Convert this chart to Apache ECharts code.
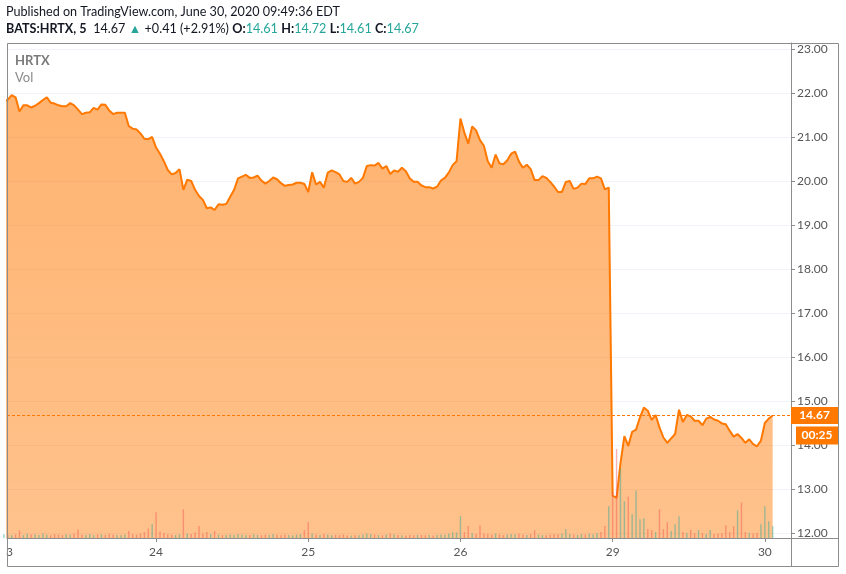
<!DOCTYPE html>
<html>
<head>
<meta charset="utf-8">
<title>HRTX</title>
<script src="https://cdn.jsdelivr.net/npm/echarts@6/dist/echarts.min.js"></script>
<style>
  html, body { margin: 0; padding: 0; background: #fff; }
  #chart { width: 846px; height: 574px; }
</style>
</head>
<body>
<div id="chart"></div>
<script>
// one step on x = 10 minutes, 39 steps per session (23, 24, 25, 26, 29 June, then 30 June open)
const dayLabels = ['24', '25', '26', '29', '30'];
const dayStarts = [39, 78, 117, 156, 195];
const priceTicks = [12, 13, 14, 15, 16, 17, 18, 19, 20, 21, 22, 23];

const price = [
  21.80, 21.85, 21.95, 21.90, 21.58, 21.72, 21.72, 21.67, 21.71, 21.77,
  21.84, 21.90, 21.78, 21.76, 21.72, 21.70, 21.70, 21.77, 21.72, 21.62,
  21.52, 21.55, 21.56, 21.66, 21.62, 21.74, 21.73, 21.60, 21.52, 21.55,
  21.55, 21.55, 21.25, 21.19, 21.17, 21.08, 20.96, 20.95, 21.00,
  20.76, 20.62, 20.45, 20.25, 20.15, 20.18, 20.27, 19.80, 20.03, 20.00,
  19.80, 19.66, 19.57, 19.38, 19.40, 19.34, 19.47, 19.46, 19.48, 19.64,
  19.80, 20.06, 20.10, 20.14, 20.07, 20.08, 20.12, 20.01, 19.94, 20.00,
  20.08, 20.04, 19.95, 19.89, 19.91, 19.92, 19.96, 19.96, 19.93,
  19.75, 20.20, 19.92, 19.98, 19.85, 20.19, 20.24, 20.20, 20.15, 20.00,
  19.98, 20.07, 19.94, 19.98, 20.07, 20.34, 20.36, 20.35, 20.41, 20.28,
  20.34, 20.16, 20.24, 20.21, 20.30, 20.22, 20.06, 19.98, 19.98, 19.90,
  19.86, 19.86, 19.83, 19.87, 20.01, 20.07, 20.19, 20.36, 20.45,
  21.42, 21.10, 20.85, 21.24, 21.15, 20.93, 20.80, 20.45, 20.30, 20.60,
  20.40, 20.38, 20.47, 20.62, 20.67, 20.44, 20.30, 20.37, 20.27, 20.02,
  20.02, 20.11, 20.07, 19.98, 19.87, 19.75, 19.75, 19.98, 20.00, 19.82,
  19.85, 19.94, 19.93, 20.06, 20.06, 20.10, 20.06, 19.81, 19.85,
  12.85, 12.80, 13.58, 14.20, 13.98, 14.30, 14.35, 14.63, 14.85, 14.78,
  14.57, 14.68, 14.40, 14.17, 14.05, 14.15, 14.25, 14.80, 14.52, 14.68,
  14.65, 14.55, 14.55, 14.45, 14.60, 14.64, 14.58, 14.55, 14.49, 14.47,
  14.32, 14.19, 14.25, 14.16, 14.05, 14.13, 14.02, 13.97, 14.10,
  14.50, 14.60, 14.67
];

// thousands of shares per step
const volume = [
  40, 35, 30, 38, 78, 30, 42, 35, 38, 30, 45, 32, 28, 40, 35, 30, 38, 32, 45, 85,
  35, 30, 40, 28, 35, 38, 30, 42, 35, 30, 28, 35, 70, 40, 35, 45, 60, 95, 140,
  260, 65, 50, 40, 35, 30, 38, 290, 45, 40, 55, 120, 45, 60, 40, 70, 35, 30, 28,
  35, 30, 40, 35, 28, 30, 38, 32, 28, 35, 30, 40, 32, 28, 35, 30, 28, 35, 40, 80,
  160, 45, 35, 30, 40, 35, 28, 32, 30, 38, 28, 25, 30, 28, 35, 45, 40, 35, 30,
  28, 35, 45, 38, 30, 28, 25, 30, 28, 32, 30, 28, 30, 25, 30, 35, 32, 45, 60, 55,
  220, 60, 120, 50, 40, 130, 45, 40, 35, 45, 38, 30, 35, 40, 38, 45, 35, 30, 40,
  80, 35, 30, 28, 35, 40, 38, 45, 90, 40, 35, 30, 40, 35, 45, 38, 50, 60, 120, 320,
  470, 900, 700, 370, 420, 240, 480, 190, 200, 90, 80, 60, 290, 90, 160, 70, 140,
  220, 60, 50, 80, 50, 80, 50, 40, 80, 40, 45, 50, 130, 60, 120, 280, 360, 60, 50,
  45, 50, 140,
  320, 170, 120
];

const symbol = 'BATS:HRTX, 5';
const lastPrice = 14.67;
const change = 0.41;
const changePct = 2.91;
const ohlcNames = ['O:', 'H:', 'L:', 'C:'];
const ohlcValues = [14.61, 14.72, 14.61, 14.67];

const orange = '#ff7800';
const teal = '#26a69a';
const font = 'Lato';

function headerLine() {
  let s = '{b|' + symbol + '}  {n|' + lastPrice.toFixed(2) + '} {g|\u25B2} {n|+' + change.toFixed(2) +
          ' (+' + changePct.toFixed(2) + '%)}';
  ohlcNames.forEach((n, i) => {
    s += ' {b|' + n + '}{g|' + ohlcValues[i].toFixed(2) + '}';
  });
  return s;
}

const chart = echarts.init(document.getElementById('chart'));

const option = {
  animation: false,
  backgroundColor: '#fff',
  grid: { left: 7, right: 55, top: 43, bottom: 36 },
  xAxis: {
    type: 'value',
    min: 0.8,
    max: 201.7,
    axisLine: { show: true, lineStyle: { color: '#8c8c8c' } },
    axisTick: { show: true, length: 4, customValues: dayStarts, lineStyle: { color: '#8c8c8c' } },
    axisLabel: {
      customValues: dayStarts,
      formatter: v => dayLabels[dayStarts.indexOf(v)],
      color: '#555', fontSize: 12, fontFamily: font, margin: 8
    },
    splitLine: { show: false }
  },
  yAxis: [
    {
      type: 'value',
      position: 'right',
      min: 11.886,
      max: 23.136,
      axisLine: { show: true, lineStyle: { color: '#8c8c8c' } },
      axisTick: { show: true, length: 4, customValues: priceTicks, lineStyle: { color: '#8c8c8c' } },
      axisLabel: {
        customValues: priceTicks,
        formatter: v => v.toFixed(2),
        color: '#555', fontSize: 12, fontFamily: font, margin: 6
      },
      splitLine: { show: true, lineStyle: { color: '#f0f3fa' } }
    },
    { type: 'value', min: 0, max: 5000, show: false }
  ],
  series: [
    {
      type: 'line',
      data: price.map((v, i) => [i, v]),
      showSymbol: false,
      lineStyle: { color: orange, width: 2 },
      itemStyle: { color: orange },
      areaStyle: {
        origin: 'start',
        opacity: 1,
        color: new echarts.graphic.LinearGradient(0, 0, 0, 1, [
          { offset: 0, color: 'rgba(255,120,0,0.56)' },
          { offset: 1, color: 'rgba(255,120,0,0.45)' }
        ])
      },
      markLine: {
        silent: true,
        symbol: 'none',
        label: { show: false },
        lineStyle: { color: orange, type: [3, 2], width: 1 },
        data: [{ yAxis: lastPrice }]
      },
      z: 2
    },
    {
      type: 'bar',
      yAxisIndex: 1,
      barWidth: 1.4,
      data: volume.map((v, i) => [i, v]),
      itemStyle: {
        color: p => (p.dataIndex > 0 && price[p.dataIndex] < price[p.dataIndex - 1])
          ? 'rgba(239,83,80,0.45)' : 'rgba(38,166,154,0.45)'
      },
      z: 3
    }
  ],
  graphic: [
    {
      type: 'text', left: 6, top: 5,
      style: { text: 'Published on TradingView.com, June 30, 2020 09:49:36 EDT', fill: '#131722', font: '12.6px ' + font }
    },
    {
      type: 'text', left: 6, top: 22,
      style: {
        text: headerLine(),
        rich: {
          b: { fontWeight: 'bold', fontSize: 12.6, fontFamily: font, fill: '#131722' },
          n: { fontSize: 12.6, fontFamily: font, fill: '#131722' },
          g: { fontSize: 12.6, fontFamily: font, fill: teal }
        }
      }
    },
    {
      type: 'text', left: 15, top: 54,
      style: { text: 'HRTX', fill: '#7b7b7b', font: 'bold 13px ' + font }
    },
    {
      type: 'text', left: 15, top: 71,
      style: { text: 'Vol', fill: '#8a8a8a', font: '13px ' + font }
    },
    {
      type: 'text', left: 6, top: 546,
      style: { text: '3', fill: '#555', font: '12px ' + font }
    },
    {
      type: 'rect', shape: { x: 7.5, y: 43.5, width: 831, height: 523 },
      style: { fill: 'none', stroke: '#8c8c8c', lineWidth: 1 }, z: 10
    },
    {
      type: 'line', shape: { x1: 791, y1: 538.5, x2: 839, y2: 538.5 },
      style: { stroke: '#8c8c8c', lineWidth: 1 }, z: 10
    },
    {
      type: 'line', shape: { x1: 791.5, y1: 538, x2: 791.5, y2: 567 },
      style: { stroke: '#8c8c8c', lineWidth: 1 }, z: 10
    }
  ]
};

chart.setOption(option);

// last price tag and bar countdown on the price scale
const tagY = chart.convertToPixel({ yAxisIndex: 0 }, lastPrice);
chart.setOption({
  graphic: [
    {
      id: 'priceTag', type: 'rect', shape: { x: 791, y: tagY - 8.5, width: 47, height: 17 },
      style: { fill: orange }, z: 20
    },
    {
      id: 'priceTagText', type: 'text', x: 814.5, y: tagY, z: 21,
      style: { text: lastPrice.toFixed(2), fill: '#fff', font: 'bold 12px ' + font, align: 'center', verticalAlign: 'middle' }
    },
    {
      id: 'timerTag', type: 'rect', shape: { x: 796, y: tagY + 11, width: 42, height: 18 },
      style: { fill: orange }, z: 20
    },
    {
      id: 'timerTagText', type: 'text', x: 817, y: tagY + 20, z: 21,
      style: { text: '00:25', fill: '#fff', font: 'bold 12px ' + font, align: 'center', verticalAlign: 'middle' }
    }
  ]
});
</script>
</body>
</html>
